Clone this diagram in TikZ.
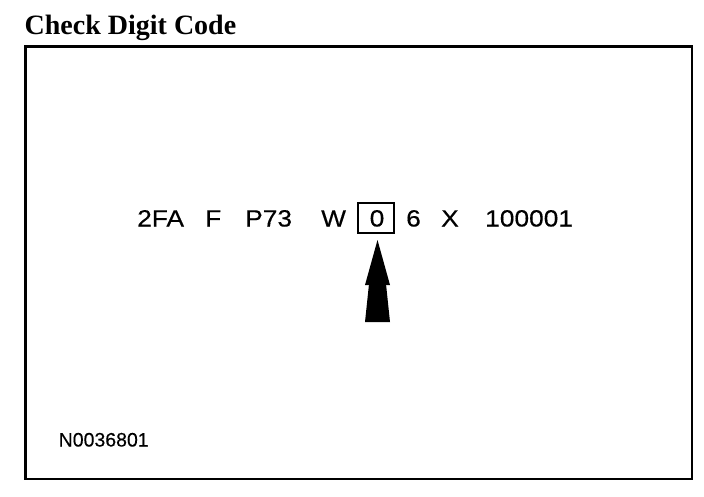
\documentclass[tikz,border=0pt]{standalone}
\usepackage{fontspec}
\setmainfont{Liberation Sans}
\newfontfamily\titlefont{Liberation Serif}
\newfontfamily\vinfont[FakeStretch=1.12,FakeBold=0.4]{Liberation Sans}
\newfontfamily\codefont[FakeBold=0.3]{Liberation Sans}
\tikzset{
  vin/.style={anchor=base west, inner sep=0pt, font=\vinfont\fontsize{23.5}{23.5}\selectfont},
  frame/.style={draw=black, line width=2.7pt},
  digitbox/.style={draw=black, line width=1.8pt},
}
\begin{document}
\begin{tikzpicture}[x=1pt,y=-1pt]
\useasboundingbox (0,0) rectangle (704,496);
\node[anchor=base west, inner sep=0pt, font=\titlefont\bfseries\fontsize{28}{28}\selectfont] (title) at (24.5,34.7) {Check Digit Code};
\draw[frame] (25.5,46.3) rectangle (692,479);
\node[vin] (a) at (137,226.5) {2FA};
\node[vin] (b) at (205,226.5) {F};
\node[vin] (c) at (245,226.5) {P73};
\node[vin] (d) at (321,226.5) {W};
\node[vin] (e) at (369.5,226.5) {0};
\node[vin] (f) at (406,226.5) {6};
\node[vin] (g) at (441,226.5) {X};
\node[vin] (h) at (485,226.5) {100001};
\draw[digitbox] (358,203) rectangle (394,233);
\node[anchor=base west, inner sep=0pt, font=\codefont\fontsize{19.5}{19.5}\selectfont] (code) at (58.5,446.5) {N0036801};
\fill[black] (377.5,240) -- (390,285) -- (365,285) -- cycle;
\fill[black] (369,284) -- (386,284) -- (390,322) -- (365,322) -- cycle;
\end{tikzpicture}
\end{document}
